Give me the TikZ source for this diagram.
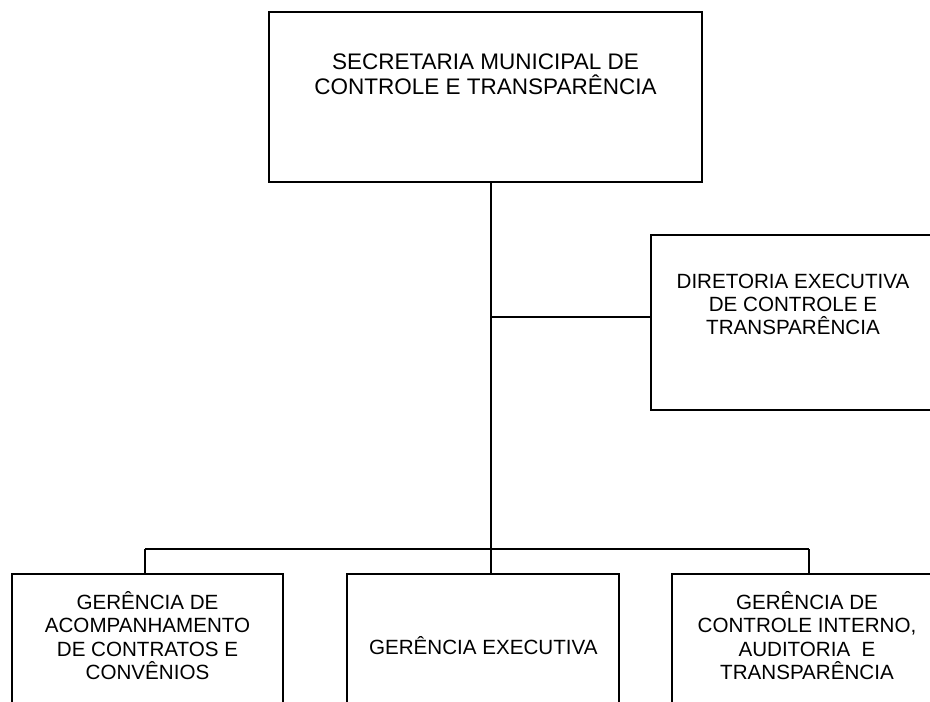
\documentclass[tikz,border=0pt]{standalone}
\usepackage{fontspec}
\setmainfont{Liberation Sans}
\begin{document}
\begin{tikzpicture}[x=1pt,y=-1pt,
  box/.style={draw=black,line width=1.1pt,inner sep=0pt,rectangle},
  conn/.style={draw=black,line width=1.1pt},
  bigtxt/.style={align=center,inner sep=0pt,font=\fontsize{22.5}{24.8}\selectfont},
  smalltxt/.style={align=center,inner sep=0pt,font=\fontsize{20.6}{23.4}\selectfont}]
\useasboundingbox (0,0) rectangle (930,702);
\clip (0,0) rectangle (930,702);
% boxes
\node[box,minimum width=433pt,minimum height=170pt] (top) at (485.5,97) {};
\node[box,minimum width=282pt,minimum height=175pt] (dir) at (792,322.5) {};
\node[box,minimum width=271pt,minimum height=146pt] (gl) at (147.5,647) {};
\node[box,minimum width=272pt,minimum height=146pt] (ge) at (483,647) {};
\node[box,minimum width=270pt,minimum height=146pt] (gc) at (807,647) {};
% texts
\node[bigtxt] (topT) at (485.5,74) {SECRETARIA MUNICIPAL DE\\CONTROLE E TRANSPAR\^ENCIA};
\node[smalltxt] (dirT) at (793,304.5) {DIRETORIA EXECUTIVA\\DE CONTROLE E\\TRANSPAR\^ENCIA};
\node[smalltxt] (glT) at (147.5,635.5) {GER\^ENCIA DE\\ACOMPANHAMENTO\\DE CONTRATOS E\\CONV\^ENIOS};
\node[smalltxt] (geT) at (483.3,646) {GER\^ENCIA EXECUTIVA};
\node[smalltxt] (gcT) at (807,635.5) {GER\^ENCIA DE\\CONTROLE INTERNO,\\AUDITORIA\ \ E\\TRANSPAR\^ENCIA};
% connectors
\coordinate (j1) at (491,317);
\coordinate (j2) at (491,549);
\coordinate (bl) at (145,549);
\coordinate (br) at (809,549);
\draw[conn] (top.south -| j2) -- (j2);
\draw[conn] (j1) -- (dir.west |- j1);
\draw[conn] (bl) -- (br);
\draw[conn] (bl) -- (bl |- gl.north);
\draw[conn] (j2) -- (j2 |- ge.north);
\draw[conn] (br) -- (br |- gc.north);
\end{tikzpicture}
\end{document}
